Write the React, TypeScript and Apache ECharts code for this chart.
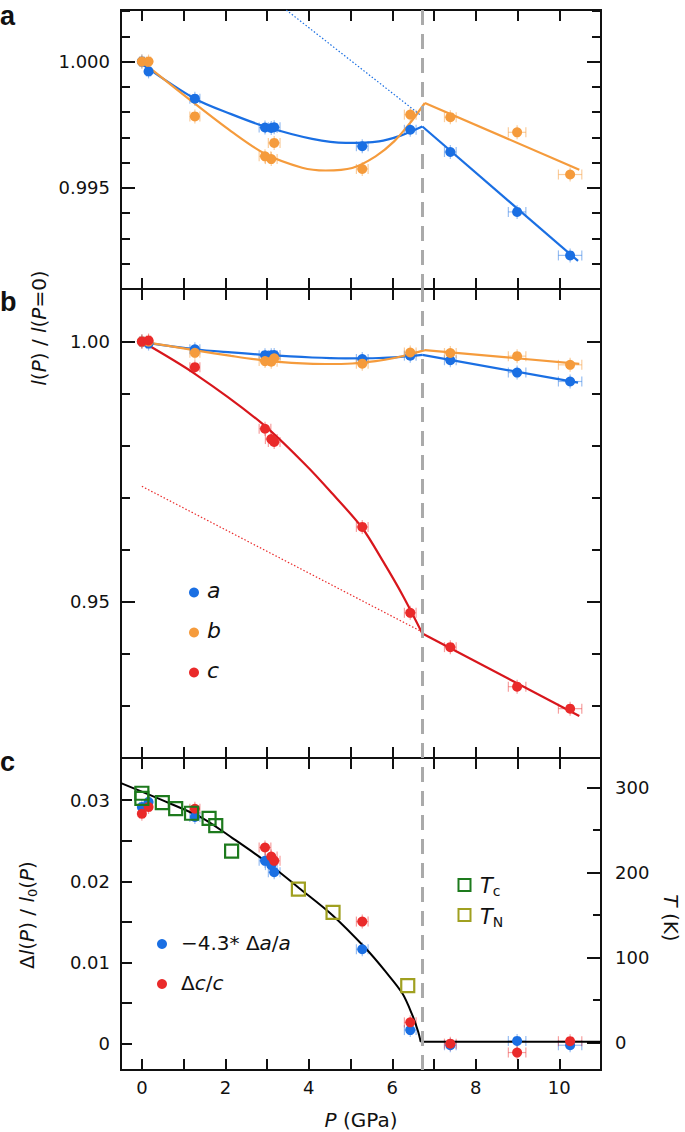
import { useEffect, useRef } from "react";
import * as echarts from "echarts";

// ---------- data ----------
const PRESSURE = [0, 0.16, 1.27, 2.95, 3.1, 3.17, 5.28, 6.43, 7.39, 8.99, 10.26];
const PRESSURE_ERR = [0.05, 0.05, 0.12, 0.14, 0.14, 0.14, 0.14, 0.14, 0.14, 0.21, 0.28];

const A_RATIO = [1.0, 0.99961, 0.99853, 0.99739, 0.99737, 0.9974, 0.99665, 0.9973, 0.99642, 0.99405, 0.99233];
const B_RATIO = [1.0, 1.0, 0.99783, 0.99625, 0.99614, 0.99678, 0.99575, 0.9979, 0.9978, 0.9972, 0.99553];
const C_RATIO = [1.0, 1.0002, 0.99508, 0.98325, 0.98127, 0.9807, 0.96439, 0.94789, 0.9413, 0.9337, 0.92948];

const DELTA_A = [0.02916, 0.02978, 0.02793, 0.02253, 0.0220, 0.02113, 0.01163, 0.00167, -0.0002, 0.00033, -0.0002];
const DELTA_C = [0.02833, 0.02916, 0.02895, 0.02417, 0.02306, 0.02253, 0.01504, 0.00262, 0.0, -0.0011, 0.0003];

const TC_P = [0, 0, 0.49, 0.81, 1.19, 1.61, 1.77, 2.15];
const TC_T = [293, 287, 282, 275, 269.5, 263.5, 255, 225];
const TN_P = [3.75, 4.58, 6.37];
const TN_T = [180.5, 153, 67];

const FIT_A_CURVE = [
  [0, 0.9999], [1.27, 0.99853], [2.14, 0.99792], [2.95, 0.99743], [4.08, 0.99694],
  [4.88, 0.99678], [5.68, 0.99684], [6.2, 0.99707], [6.72, 0.99743],
];
const FIT_A_LINE = [[6.72, 0.99743], [10.45, 0.99211]];
const FIT_A_DOTTED = [[3.46, 1.00204], [6.66, 0.9979]];

const FIT_B_CURVE = [
  [0, 1.0], [1.25, 0.99836], [2.14, 0.99724], [2.95, 0.99635],
  [3.84, 0.9958], [4.4, 0.99569], [5.04, 0.99579], [5.6, 0.99625], [6.05, 0.99685],
  [6.45, 0.99762], [6.78, 0.99836],
];
const FIT_B_LINE = [[6.78, 0.99836], [10.48, 0.99572]];

const FIT_C_CURVE = [
  [0, 1.0], [1.27, 0.9938], [2.87, 0.98433], [3.92, 0.97634], [4.55, 0.97091],
  [5.28, 0.96419], [5.8, 0.95748], [6.25, 0.95123], [6.72, 0.94393],
];
const FIT_C_LINE = [[6.72, 0.94393], [10.48, 0.92807]];
const FIT_C_DOTTED = [[0, 0.97219], [6.72, 0.9442]];

const ORDER_CURVE = [
  [-0.5, 0.0321], [0.65, 0.02965], [1.45, 0.0278], [2.17, 0.02533], [2.97, 0.02244],
  [3.77, 0.01916], [4.56, 0.01586], [5.36, 0.01175], [5.84, 0.00887], [6.24, 0.0062], [6.48, 0.00352],
  [6.62, 0.00146], [6.68, 0.00022],
];
const ORDER_FLAT = [[6.68, 0.00022], [11, 0.00022]];

const TRANSITION_P = 6.72;

// tick values
const X_TICKS = [0, 1, 2, 3, 4, 5, 6, 7, 8, 9, 10];
const X_LABELS = [0, 2, 4, 6, 8, 10];
const A_MAJOR = [0.995, 1.0];
const A_MINOR = [0.992, 0.993, 0.994, 0.996, 0.997, 0.998, 0.999, 1.001, 1.002];
const B_MAJOR = [0.95, 1.0];
const B_MINOR = [0.93, 0.94, 0.96, 0.97, 0.98, 0.99];
const C_MAJOR = [0, 0.01, 0.02, 0.03];
const C_MINOR = [0.005, 0.015, 0.025];
const T_MAJOR = [0, 100, 200, 300];
const T_MINOR = [50, 150, 250];

// ---------- style ----------
const FONT = "DejaVu Sans";
const BLUE = "#1a6fe3";
const ORANGE = "#f59b3c";
const RED = "#ea2a2a";
const RED_LINE = "#d8161c";
const GREEN = "#1d7a1d";
const OLIVE = "#a0a020";
const INK = "#111";
const TICK_FONT = 18;

const GRID_LEFT = 121;
const GRID_RIGHT = 84;

function pairs(xs: number[], ys: number[]) {
  return xs.map((x, i) => [x, ys[i]]);
}

function errorBars(xs: number[], ys: number[], errs: number[], color: string, xAxisIndex: number, yAxisIndex: number) {
  return {
    type: "custom",
    xAxisIndex,
    yAxisIndex,
    z: 1,
    silent: true,
    data: xs.map((p, i) => [p, ys[i], errs[i]]),
    encode: { x: 0, y: 1 },
    renderItem: (_params: any, api: any) => {
      const x = api.value(0);
      const y = api.value(1);
      const e = api.value(2);
      const l = api.coord([x - e, y]);
      const r = api.coord([x + e, y]);
      const c = api.coord([x, y]);
      const style = { stroke: color, lineWidth: 1.2, fill: "none" };
      return {
        type: "group",
        children: [
          { type: "line", shape: { x1: l[0], y1: l[1], x2: r[0], y2: r[1] }, style },
          { type: "line", shape: { x1: l[0], y1: l[1] - 5, x2: l[0], y2: l[1] + 5 }, style },
          { type: "line", shape: { x1: r[0], y1: r[1] - 5, x2: r[0], y2: r[1] + 5 }, style },
          { type: "line", shape: { x1: c[0], y1: c[1] - 7, x2: c[0], y2: c[1] + 7 }, style },
        ],
      };
    },
  };
}

function scatter(data: number[][], color: string, xAxisIndex: number, yAxisIndex: number) {
  return {
    type: "scatter",
    xAxisIndex,
    yAxisIndex,
    z: 4,
    symbol: "circle",
    symbolSize: 10,
    itemStyle: { color, opacity: 1 },
    data,
  };
}

function squares(data: number[][], color: string, xAxisIndex: number, yAxisIndex: number) {
  return {
    type: "scatter",
    xAxisIndex,
    yAxisIndex,
    z: 5,
    symbol: "rect",
    symbolSize: 13,
    itemStyle: { color: "rgba(255,255,255,0)", borderColor: color, borderWidth: 2.2, opacity: 1 },
    data,
  };
}

function line(data: number[][], color: string, xAxisIndex: number, yAxisIndex: number, smooth: boolean, extra: any = {}) {
  return {
    type: "line",
    xAxisIndex,
    yAxisIndex,
    z: 3,
    symbol: "none",
    showSymbol: false,
    smooth: smooth ? 0.3 : false,
    lineStyle: { color, width: 2.2 },
    data,
    ...extra,
  };
}

const transitionMark = {
  silent: true,
  symbol: "none",
  label: { show: false },
  lineStyle: { color: "#aaaaaa", width: 3, type: [15, 9] },
  data: [{ xAxis: TRANSITION_P }],
};

function xAxis(gridIndex: number, position: "top" | "bottom", labels: boolean, named: boolean) {
  return {
    type: "value",
    gridIndex,
    position,
    min: -0.5,
    max: 11,
    splitLine: { show: false },
    axisLine: { show: true, onZero: false, lineStyle: { color: INK, width: 2 } },
    axisTick: { show: true, inside: true, length: 11, customValues: X_TICKS, lineStyle: { color: INK, width: 2 } },
    axisLabel: {
      show: labels,
      customValues: X_LABELS,
      color: INK,
      fontFamily: FONT,
      fontSize: TICK_FONT,
      margin: 8,
      formatter: (v: number) => String(v),
    },
    name: named ? "{i|P} (GPa)" : "",
    nameLocation: "middle",
    nameGap: 40,
    nameTextStyle: {
      color: INK,
      fontFamily: FONT,
      fontSize: 20,
      rich: { i: { fontStyle: "italic", fontFamily: FONT, fontSize: 20, color: INK } },
    },
  };
}

function yAxis(
  gridIndex: number,
  position: "left" | "right",
  min: number,
  max: number,
  ticks: number[],
  tickLen: number,
  labels: number[] | null,
  fmt: (v: number) => string,
  margin: number
) {
  return {
    type: "value",
    gridIndex,
    position,
    min,
    max,
    splitLine: { show: false },
    axisLine: { show: true, onZero: false, lineStyle: { color: INK, width: 2 } },
    axisTick: { show: true, inside: true, length: tickLen, customValues: ticks, lineStyle: { color: INK, width: 2 } },
    axisLabel: {
      show: !!labels,
      customValues: labels || [],
      color: INK,
      fontFamily: FONT,
      fontSize: TICK_FONT,
      margin,
      formatter: fmt,
    },
  };
}

const fmt3 = (v: number) => v.toFixed(3);
const fmt2 = (v: number) => v.toFixed(2);
const fmtC = (v: number) => (Math.abs(v) < 1e-9 ? "0" : v.toFixed(2));
const fmtT = (v: number) => String(Math.round(v));

function txt(x: number, y: number, text: string, size: number, extra: any = {}, rich: any = undefined, rotation = 0) {
  return {
    type: "text",
    x,
    y,
    rotation,
    z: 100,
    style: {
      text,
      fill: INK,
      fontFamily: FONT,
      fontSize: size,
      align: "left",
      verticalAlign: "middle",
      textAlign: "left",
      textVerticalAlign: "middle",
      rich,
      ...extra,
    },
  };
}

function buildOption() {
  const italic = (s: number) => ({ fontStyle: "italic", fontFamily: FONT, fontSize: s, fill: INK, color: INK, lineHeight: 24 });
  const plain = (s: number) => ({ fontFamily: FONT, fontSize: s, fill: INK, color: INK, lineHeight: 24 });
  const sub = (s: number) => ({ fontFamily: FONT, fontSize: s, fill: INK, color: INK, lineHeight: s, verticalAlign: "bottom" });

  const graphic: any[] = [
    // panel letters
    txt(0, 16, "a", 27, { fontFamily: "Liberation Sans", fontWeight: "bold" }),
    txt(0, 302, "b", 27, { fontFamily: "Liberation Sans", fontWeight: "bold" }),
    txt(0, 762, "c", 27, { fontFamily: "Liberation Sans", fontWeight: "bold" }),
    // axis titles
    txt(
      39,
      328,
      "{i|l}{n|(}{i|P}{n|) / }{i|l}{n|(}{i|P}{n|=0)}",
      20,
      { align: "center", textAlign: "center" },
      { i: italic(20), n: plain(20) },
      Math.PI / 2
    ),
    txt(
      27,
      915,
      "{n|Δ}{i|l}{n|(}{i|P}{n|) / }{i|l}{s|0}{n|(}{i|P}{n|)}",
      20,
      { align: "center", textAlign: "center" },
      { i: italic(20), n: plain(20), s: sub(13) },
      Math.PI / 2
    ),
    txt(
      671,
      918,
      "{i|T}{n| (K)}",
      20,
      { align: "center", textAlign: "center" },
      { i: italic(20), n: plain(20) },
      -Math.PI / 2
    ),
    // legend of panel b
    { type: "circle", z: 100, shape: { cx: 194, cy: 592.5, r: 5 }, style: { fill: BLUE } },
    { type: "circle", z: 100, shape: { cx: 194, cy: 632.5, r: 5 }, style: { fill: ORANGE } },
    { type: "circle", z: 100, shape: { cx: 194, cy: 672.5, r: 5 }, style: { fill: RED } },
    txt(207, 590, "a", 22, { fontStyle: "italic" }),
    txt(207, 630, "b", 22, { fontStyle: "italic" }),
    txt(207, 670, "c", 22, { fontStyle: "italic" }),
    // legend of panel c (points)
    { type: "circle", z: 100, shape: { cx: 162, cy: 944, r: 5 }, style: { fill: BLUE } },
    { type: "circle", z: 100, shape: { cx: 162, cy: 984, r: 5 }, style: { fill: RED } },
    txt(181, 943, "{n|−4.3* Δ}{i|a}{n|/}{i|a}", 20, {}, { i: italic(20), n: plain(20) }),
    txt(181, 983, "{n|Δ}{i|c}{n|/}{i|c}", 20, {}, { i: italic(20), n: plain(20) }),
    // legend of panel c (squares)
    { type: "rect", z: 100, shape: { x: 458.5, y: 879, width: 12, height: 12 }, style: { fill: "none", stroke: GREEN, lineWidth: 2 } },
    { type: "rect", z: 100, shape: { x: 458.5, y: 909, width: 12, height: 12 }, style: { fill: "none", stroke: OLIVE, lineWidth: 2 } },
    txt(480, 886, "{i|T}{s|c}", 21, {}, { i: italic(21), s: sub(14) }),
    txt(480, 917, "{i|T}{s|N}", 21, {}, { i: italic(21), s: sub(14) }),
  ];

  const scA = pairs(PRESSURE, A_RATIO);
  const scB = pairs(PRESSURE, B_RATIO);
  const scC = pairs(PRESSURE, C_RATIO);
  const scDA = pairs(PRESSURE, DELTA_A);
  const scDC = pairs(PRESSURE, DELTA_C);
  const scTc = pairs(TC_P, TC_T);
  const scTn = pairs(TN_P, TN_T);

  const blueErr = "rgba(26,111,227,0.45)";
  const orangeErr = "rgba(245,155,60,0.5)";
  const redErr = "rgba(234,42,42,0.45)";

  const series: any[] = [
    // ---- panel a (x 0, y 0)
    errorBars(PRESSURE, A_RATIO, PRESSURE_ERR, blueErr, 0, 0),
    errorBars(PRESSURE, B_RATIO, PRESSURE_ERR, orangeErr, 0, 0),
    line(FIT_A_CURVE, BLUE, 0, 0, true),
    line(FIT_A_LINE, BLUE, 0, 0, false, { markLine: transitionMark }),
    line(FIT_B_CURVE, ORANGE, 0, 0, true),
    line(FIT_B_LINE, ORANGE, 0, 0, false),
    line(FIT_A_DOTTED, BLUE, 0, 0, false, { lineStyle: { color: BLUE, width: 1.2, type: [1.5, 2] } }),
    scatter(scA, BLUE, 0, 0),
    scatter(scB, ORANGE, 0, 0),
    // ---- panel b (x 2, y 4)
    errorBars(PRESSURE, A_RATIO, PRESSURE_ERR, blueErr, 2, 4),
    errorBars(PRESSURE, B_RATIO, PRESSURE_ERR, orangeErr, 2, 4),
    errorBars(PRESSURE, C_RATIO, PRESSURE_ERR, redErr, 2, 4),
    line(FIT_A_CURVE, BLUE, 2, 4, true),
    line(FIT_A_LINE, BLUE, 2, 4, false, { markLine: transitionMark }),
    line(FIT_B_CURVE, ORANGE, 2, 4, true),
    line(FIT_B_LINE, ORANGE, 2, 4, false),
    line(FIT_C_CURVE, RED_LINE, 2, 4, true),
    line(FIT_C_LINE, RED_LINE, 2, 4, false),
    line(FIT_C_DOTTED, RED, 2, 4, false, { lineStyle: { color: RED, width: 1.2, type: [1.5, 2] } }),
    scatter(scA, BLUE, 2, 4),
    scatter(scB, ORANGE, 2, 4),
    scatter(scC, RED, 2, 4),
    // ---- panel c (x 4, y 8 / T axis y 10)
    errorBars(PRESSURE, DELTA_A, PRESSURE_ERR, blueErr, 4, 8),
    errorBars(PRESSURE, DELTA_C, PRESSURE_ERR, redErr, 4, 8),
    line(ORDER_CURVE, "#000", 4, 8, true, { lineStyle: { color: "#000", width: 2 } }),
    line(ORDER_FLAT, "#000", 4, 8, false, { lineStyle: { color: "#000", width: 2 }, markLine: transitionMark }),
    scatter(scDA, BLUE, 4, 8),
    scatter(scDC, RED, 4, 8),
    squares(scTc, GREEN, 4, 10),
    squares(scTn, OLIVE, 4, 10),
  ];

  return {
    animation: false,
    backgroundColor: "#ffffff",
    textStyle: { fontFamily: FONT },
    grid: [
      { left: GRID_LEFT, right: GRID_RIGHT, top: 10, height: 279 },
      { left: GRID_LEFT, right: GRID_RIGHT, top: 289, height: 469 },
      { left: GRID_LEFT, right: GRID_RIGHT, top: 758, height: 312 },
    ],
    xAxis: [
      xAxis(0, "bottom", false, false),
      xAxis(0, "top", false, false),
      xAxis(1, "bottom", false, false),
      xAxis(1, "top", false, false),
      xAxis(2, "bottom", true, true),
      xAxis(2, "top", false, false),
    ],
    yAxis: [
      // panel a
      yAxis(0, "left", 0.991, 1.00204, A_MAJOR, 14, A_MAJOR, fmt3, 11),
      yAxis(0, "left", 0.991, 1.00204, A_MINOR, 9, null, fmt3, 11),
      yAxis(0, "right", 0.991, 1.00204, A_MAJOR, 14, null, fmt3, 11),
      yAxis(0, "right", 0.991, 1.00204, A_MINOR, 9, null, fmt3, 11),
      // panel b
      yAxis(1, "left", 0.92, 1.0101, B_MAJOR, 14, B_MAJOR, fmt2, 11),
      yAxis(1, "left", 0.92, 1.0101, B_MINOR, 9, null, fmt2, 11),
      yAxis(1, "right", 0.92, 1.0101, B_MAJOR, 14, null, fmt2, 11),
      yAxis(1, "right", 0.92, 1.0101, B_MINOR, 9, null, fmt2, 11),
      // panel c
      yAxis(2, "left", -0.00325, 0.0352, C_MAJOR, 11, C_MAJOR, fmtC, 11),
      yAxis(2, "left", -0.00325, 0.0352, C_MINOR, 11, null, fmtC, 11),
      yAxis(2, "right", -32, 334.4, T_MAJOR, 14, T_MAJOR, fmtT, 14),
      yAxis(2, "right", -32, 334.4, T_MINOR, 8, null, fmtT, 14),
    ],
    graphic,
    series,
  };
}

export default function App() {
  const ref = useRef<HTMLDivElement>(null);
  useEffect(() => {
    if (!ref.current) return;
    const chart = echarts.init(ref.current, undefined, { renderer: "svg" });
    chart.setOption(buildOption() as any);
    return () => chart.dispose();
  }, []);
  return (
    <div
      ref={ref}
      style={{ position: "absolute", left: 0, top: 0, width: 685, height: 1132, background: "#fff" }}
    />
  );
}
